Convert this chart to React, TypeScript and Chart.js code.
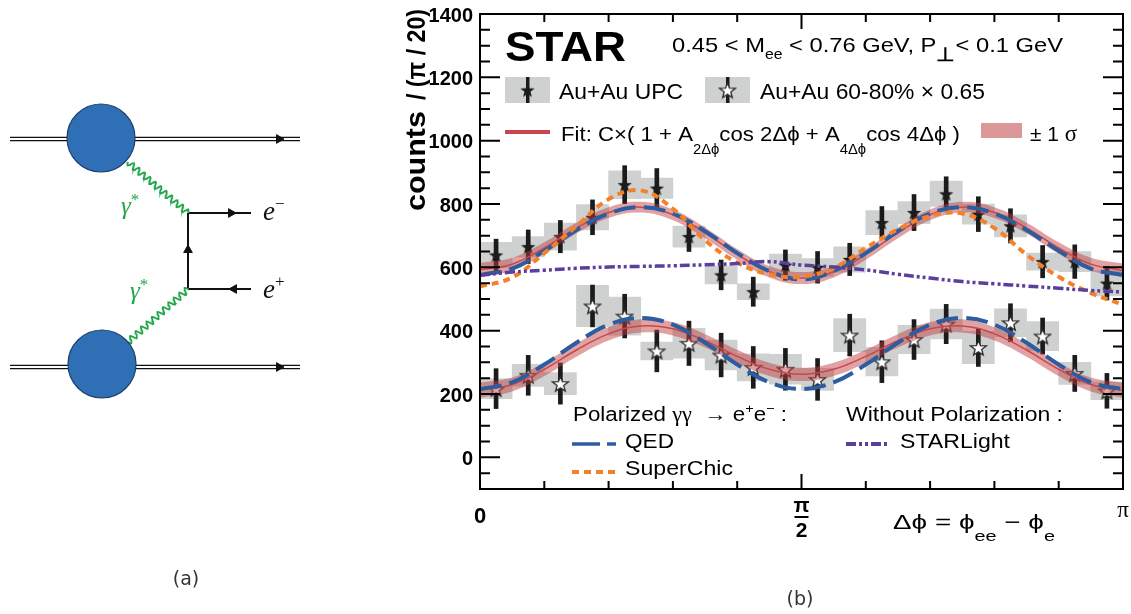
import { useEffect, useRef } from "react";
import { Chart, registerables } from "chart.js";

Chart.register(...registerables);

const SANS = '"Liberation Sans", Arial, Helvetica, sans-serif';
const SERIF = '"Liberation Serif", "Times New Roman", serif';

// Δφ bin centres and curve sampling nodes, in units of π/20
const binCentres = [0.5, 1.5, 2.5, 3.5, 4.5, 5.5, 6.5, 7.5, 8.5, 9.5, 10.5, 11.5, 12.5, 13.5, 14.5, 15.5, 16.5, 17.5, 18.5, 19.5];
const curveNodes = [0, 1, 2, 3, 4, 5, 6, 7, 8, 9, 10, 11, 12, 13, 14, 15, 16, 17, 18, 19, 20];

// Au+Au UPC
const upcCounts = [639, 665, 697, 758, 861, 850, 697, 576, 523, 607, 600, 625, 741, 773, 832, 768, 731, 618, 618, 550];
const upcStat = [50, 53, 51, 55, 60, 62, 47, 47, 46, 48, 50, 51, 51, 57, 54, 55, 54, 51, 53, 53];
const upcSys = [40, 32, 43, 40, 44, 32, 33, 28, 25, 35, 28, 40, 38, 35, 40, 32, 35, 27, 32, 40];

// Au+Au 60-80% × 0.65
const periCounts = [217, 259, 233, 478, 446, 336, 360, 323, 284, 278, 246, 386, 302, 372, 421, 347, 425, 383, 265, 210];
const periStat = [63, 63, 65, 66, 69, 66, 70, 69, 66, 66, 66, 66, 66, 63, 62, 60, 60, 57, 57, 55];
const periSys = [32, 35, 35, 65, 60, 28, 47, 47, 43, 47, 35, 52, 45, 45, 47, 51, 44, 46, 35, 28];

// Fits C×(1 + A2 cos 2Δφ + A4 cos 4Δφ) with ±1σ half-widths, sampled at curveNodes
const upcFit = [592, 610, 661, 724, 773, 790, 766, 709, 641, 586, 566, 586, 641, 709, 766, 790, 773, 724, 661, 610, 590];
const upcFitSigma = [22, 20, 18, 17, 17, 17, 17, 17, 17, 18, 19, 18, 17, 17, 17, 17, 17, 17, 18, 20, 22];
const periFit = [212, 230, 278, 339, 390, 415, 406, 368, 319, 278, 262, 278, 319, 368, 406, 415, 390, 339, 278, 230, 212];
const periFitSigma = [24, 22, 21, 21, 21, 21, 21, 21, 21, 21, 21, 21, 21, 21, 21, 21, 21, 21, 21, 22, 24];

// Model curves
const upcQED = [576, 596, 652, 718, 770, 790, 770, 714, 645, 588, 562, 588, 645, 714, 770, 790, 770, 718, 652, 596, 576];
const periQED = [215, 237, 293, 362, 419, 440, 419, 362, 293, 237, 216, 237, 293, 362, 419, 440, 419, 362, 293, 237, 215];
const upcSuperChic = [539, 568, 645, 730, 815, 843, 785, 685, 615, 578, 570, 598, 661, 720, 762, 770, 724, 640, 570, 519, 482];
const upcSTARLight = [575, 585, 591, 597, 601, 603, 605, 608, 612, 618, 607, 601, 592, 578, 566, 555, 548, 541, 534, 527, 522];

// Axis ticks
const yMajorTicks = [0, 200, 400, 600, 800, 1000, 1200, 1400];
const yMinorStep = 50;
const xTickNodes = [1, 2, 3, 4, 5, 6, 7, 8, 9]; // multiples of π/10
const xMajorNode = 5;

// Feynman diagram geometry (diagram canvas units)
const beamLevels = [139, 367];
const beamSpan = [10, 300];
const blobCentres = [{ x: 101, y: 138 }, { x: 102, y: 364 }];
const blobRadius = 34;
const vertexTop = { x: 188, y: 213 };
const vertexBottom = { x: 188, y: 289 };
const leptonEndX = 251;
const photonStarts = [{ x: 128, y: 162 }, { x: 128, y: 342 }];
const arrowMarks = [
  { x: 279, y: 139, rot: 90 },
  { x: 279, y: 367, rot: 90 },
  { x: 231, y: 213, rot: 90 },
  { x: 234, y: 289, rot: -90 },
  { x: 188, y: 250, rot: 0 },
];

const RED = "#c8474b";
const BAND = "rgba(190, 60, 60, 0.48)";
const BLUE = "#2c5da0";
const ORANGE = "#f5802a";
const PURPLE = "#5b3f9d";
const BOX = "#cfd1d1";
const INK = "#1b1b1b";

type Seg = { t: string; dy?: number; size?: number; bold?: boolean; italic?: boolean; family?: string; color?: string };
type RichOpts = { size: number; bold?: boolean; italic?: boolean; family?: string; color?: string; width?: number; align?: "left" | "center" | "right" };

function drawRich(ctx: CanvasRenderingContext2D, segs: Seg[], x: number, y: number, o: RichOpts) {
  const fontOf = (s: Seg) =>
    `${(s.italic ?? o.italic) ? "italic " : ""}${(s.bold ?? o.bold) ? "bold " : ""}${s.size ?? o.size}px ${s.family ?? o.family ?? SANS}`;
  let total = 0;
  const widths = segs.map((s) => {
    ctx.font = fontOf(s);
    const w = ctx.measureText(s.t).width;
    total += w;
    return w;
  });
  const sx = o.width ? o.width / total : 1;
  let x0 = x;
  if (o.align === "center") x0 = x - (total * sx) / 2;
  else if (o.align === "right") x0 = x - total * sx;
  ctx.save();
  ctx.translate(x0, y);
  ctx.scale(sx, 1);
  ctx.textAlign = "left";
  ctx.textBaseline = "alphabetic";
  let cx = 0;
  segs.forEach((s, i) => {
    ctx.font = fontOf(s);
    ctx.fillStyle = s.color ?? o.color ?? "#000";
    ctx.fillText(s.t, cx, s.dy ?? 0);
    cx += widths[i];
  });
  ctx.restore();
}

function makeStar(size: number, fill: string | null, stroke: string | null, lw: number) {
  const c = document.createElement("canvas");
  c.width = size;
  c.height = size;
  const g = c.getContext("2d")!;
  const cx = size / 2;
  const cy = size / 2 + size * 0.05;
  const R = size / 2 - lw;
  const r = R * 0.42;
  g.beginPath();
  for (let i = 0; i < 10; i++) {
    const a = -Math.PI / 2 + (i * Math.PI) / 5;
    const rad = i % 2 === 0 ? R : r;
    const px = cx + rad * Math.cos(a);
    const py = cy + rad * Math.sin(a);
    if (i === 0) g.moveTo(px, py);
    else g.lineTo(px, py);
  }
  g.closePath();
  if (fill) {
    g.fillStyle = fill;
    g.fill();
  }
  if (stroke) {
    g.strokeStyle = stroke;
    g.lineWidth = lw;
    g.stroke();
  }
  return c;
}

const toX = (u: number) => (u * Math.PI) / 20;
const curve = (vals: number[]) => curveNodes.map((u, i) => ({ x: toX(u), y: vals[i] }));
const curveShift = (vals: number[], d: number[], sign: number) => curveNodes.map((u, i) => ({ x: toX(u), y: vals[i] + sign * d[i] }));
const ranges = (c: number[], e: number[]) => binCentres.map((u, i) => ({ x: toX(u), y: [c[i] - e[i], c[i] + e[i]] }));
const points = (c: number[]) => binCentres.map((u, i) => ({ x: toX(u), y: c[i] }));

// Photon propagator drawn as a sine wiggle between two vertices
function photonPath(a: { x: number; y: number }, b: { x: number; y: number }, cycles: number, amp: number) {
  const dx = b.x - a.x;
  const dy = b.y - a.y;
  const len = Math.hypot(dx, dy);
  const nx = -dy / len;
  const ny = dx / len;
  const pts = [];
  const n = 240;
  for (let i = 0; i <= n; i++) {
    const t = i / n;
    const off = amp * Math.sin(t * cycles * 2 * Math.PI);
    pts.push({ x: a.x + dx * t + nx * off, y: a.y + dy * t + ny * off });
  }
  return pts;
}

function StarPlot() {
  const ref = useRef<HTMLCanvasElement>(null);
  useEffect(() => {
    const starFilled = makeStar(17, INK, null, 1);
    const starOpen = makeStar(19, "#ffffff", "#2a2a2a", 1.3);

    const decor = {
      id: "starDecor",
      afterDraw(chart: any) {
        const ctx: CanvasRenderingContext2D = chart.ctx;
        const { left, right, top, bottom } = chart.chartArea;
        const xs = chart.scales.x;
        const ys = chart.scales.y;
        ctx.save();
        // frame
        ctx.strokeStyle = "#000";
        ctx.lineWidth = 2;
        ctx.strokeRect(left, top, right - left, bottom - top);
        // y ticks (inward, both sides)
        for (let v = ys.min; v <= ys.max; v += yMinorStep) {
          const py = ys.getPixelForValue(v);
          const len = yMajorTicks.includes(v) ? 20 : 10;
          ctx.beginPath();
          ctx.moveTo(left, py);
          ctx.lineTo(left + len, py);
          ctx.moveTo(right, py);
          ctx.lineTo(right - len, py);
          ctx.stroke();
        }
        // x ticks (inward, both sides)
        xTickNodes.forEach((n) => {
          const px = xs.getPixelForValue((n * Math.PI) / 10);
          const len = n === xMajorNode ? 15 : 8;
          ctx.beginPath();
          ctx.moveTo(px, bottom);
          ctx.lineTo(px, bottom - len);
          ctx.moveTo(px, top);
          ctx.lineTo(px, top + len);
          ctx.stroke();
        });
        // y tick labels
        yMajorTicks.forEach((v) => {
          drawRich(ctx, [{ t: String(v) }], left - 7, ys.getPixelForValue(v) + 7.5, { size: 20, bold: true, align: "right" });
        });
        // x tick labels
        drawRich(ctx, [{ t: "0" }], xs.getPixelForValue(0), 523, { size: 22, bold: true, align: "center" });
        const halfPi = xs.getPixelForValue(Math.PI / 2);
        drawRich(ctx, [{ t: "π" }], halfPi, 512, { size: 21, bold: true, align: "center" });
        ctx.fillStyle = "#000";
        ctx.fillRect(halfPi - 7, 516, 14, 2);
        drawRich(ctx, [{ t: "2" }], halfPi, 537, { size: 21, bold: true, align: "center" });
        drawRich(ctx, [{ t: "π" }], xs.getPixelForValue(Math.PI), 517, { size: 23, family: SERIF, align: "center" });
        // axis titles
        drawRich(
          ctx,
          [{ t: "Δϕ = ϕ" }, { t: "ee", size: 15, dy: 12 }, { t: " − ϕ" }, { t: "e", size: 15, dy: 12 }],
          893, 529, { size: 21, width: 162 }
        );
        ctx.save();
        ctx.translate(425, 211);
        ctx.rotate(-Math.PI / 2);
        drawRich(ctx, [{ t: "counts" }], 0, 0, { size: 27, bold: true, width: 100 });
        drawRich(ctx, [{ t: "/ (π / 20)" }], 111, 0, { size: 25, bold: true, width: 91 });
        ctx.restore();

        // STAR tag and kinematic selection
        drawRich(ctx, [{ t: "STAR" }], 505, 61, { size: 43, bold: true, width: 121 });
        drawRich(
          ctx,
          [
            { t: "0.45 < M" },
            { t: "ee", size: 14, dy: 7 },
            { t: " < 0.76 GeV, P" },
            { t: "⊥", size: 19, dy: 9, bold: true },
            { t: "< 0.1 GeV" },
          ],
          672, 52, { size: 21, width: 391 }
        );

        // data legend
        const swatch = (x0: number, img: HTMLCanvasElement) => {
          ctx.fillStyle = BOX;
          ctx.fillRect(x0, 77, 45, 26);
          ctx.fillStyle = INK;
          ctx.fillRect(x0 + 21, 77, 3.5, 26);
          ctx.drawImage(img, x0 + 22.5 - img.width / 2, 90 - img.height / 2);
        };
        swatch(505, starFilled);
        swatch(705, starOpen);
        drawRich(ctx, [{ t: "Au+Au UPC" }], 559, 99, { size: 22, width: 124 });
        drawRich(ctx, [{ t: "Au+Au 60-80% × 0.65" }], 760, 99, { size: 22, width: 225 });

        ctx.strokeStyle = RED;
        ctx.lineWidth = 4;
        ctx.beginPath();
        ctx.moveTo(505, 132);
        ctx.lineTo(550, 132);
        ctx.stroke();
        drawRich(
          ctx,
          [
            { t: "Fit: C×( 1 + A" },
            { t: "2Δϕ", size: 14, dy: 13 },
            { t: "cos 2Δϕ + A" },
            { t: "4Δϕ", size: 14, dy: 13 },
            { t: "cos 4Δϕ )" },
          ],
          561, 141, { size: 21, width: 399 }
        );
        ctx.fillStyle = "#dc9898";
        ctx.fillRect(981, 123, 41, 15);
        drawRich(ctx, [{ t: "± 1 " }, { t: "σ", family: SERIF, size: 23 }], 1030, 141, { size: 21, width: 47 });

        // model legend
        drawRich(
          ctx,
          [
            { t: "Polarized " },
            { t: "γγ", family: SERIF },
            { t: "  → e" },
            { t: "+", size: 13, dy: -8 },
            { t: "e" },
            { t: "−", size: 13, dy: -8 },
            { t: " :" },
          ],
          573, 421, { size: 20, width: 214 }
        );
        drawRich(ctx, [{ t: "Without Polarization :" }], 846, 421, { size: 20, width: 217 });
        const lineSwatch = (x0: number, y0: number, color: string, dash: number[], w: number) => {
          ctx.save();
          ctx.strokeStyle = color;
          ctx.lineWidth = w;
          ctx.setLineDash(dash);
          ctx.beginPath();
          ctx.moveTo(x0, y0);
          ctx.lineTo(x0 + 44, y0);
          ctx.stroke();
          ctx.restore();
        };
        lineSwatch(572, 444, BLUE, [28, 7], 3.5);
        lineSwatch(572, 472, ORANGE, [7, 5], 4);
        lineSwatch(846, 444, PURPLE, [10, 3, 3, 3, 3, 3], 4);
        drawRich(ctx, [{ t: "QED" }], 625, 448, { size: 20, width: 49 });
        drawRich(ctx, [{ t: "SuperChic" }], 625, 475, { size: 20, width: 108 });
        drawRich(ctx, [{ t: "STARLight" }], 900, 448, { size: 20, width: 110 });
        ctx.restore();
      },
    };

    const bandLine = { borderWidth: 0, pointRadius: 0, tension: 0.4, fill: false };
    const chart = new Chart(ref.current!, {
      type: "line",
      data: {
        datasets: [
          { type: "bar", label: "UPC sys", data: ranges(upcCounts, upcSys) as any, backgroundColor: BOX, grouped: false, barPercentage: 1, categoryPercentage: 1, order: 100 } as any,
          { type: "bar", label: "60-80% sys", data: ranges(periCounts, periSys) as any, backgroundColor: BOX, grouped: false, barPercentage: 1, categoryPercentage: 1, order: 99 } as any,
          { type: "bar", label: "UPC stat", data: ranges(upcCounts, upcStat) as any, backgroundColor: INK, grouped: false, barThickness: 4, order: 90 } as any,
          { type: "bar", label: "60-80% stat", data: ranges(periCounts, periStat) as any, backgroundColor: INK, grouped: false, barThickness: 4, order: 89 } as any,
          { label: "Au+Au UPC", data: points(upcCounts), showLine: false, pointStyle: starFilled as any, pointRadius: 8, order: 80 },
          { label: "Au+Au 60-80% × 0.65", data: points(periCounts), showLine: false, pointStyle: starOpen as any, pointRadius: 9, order: 79 },
          { label: "UPC fit low", data: curveShift(upcFit, upcFitSigma, -1), ...bandLine, order: 61 } as any,
          { label: "UPC fit band", data: curveShift(upcFit, upcFitSigma, 1), ...bandLine, fill: "-1", backgroundColor: BAND, order: 60 } as any,
          { label: "UPC fit", data: curve(upcFit), borderColor: RED, borderWidth: 1.5, pointRadius: 0, tension: 0.4, order: 59 },
          { label: "60-80% fit low", data: curveShift(periFit, periFitSigma, -1), ...bandLine, order: 58 } as any,
          { label: "60-80% fit band", data: curveShift(periFit, periFitSigma, 1), ...bandLine, fill: "-1", backgroundColor: BAND, order: 57 } as any,
          { label: "60-80% fit", data: curve(periFit), borderColor: RED, borderWidth: 1.5, pointRadius: 0, tension: 0.4, order: 56 },
          { label: "QED UPC", data: curve(upcQED), borderColor: BLUE, borderWidth: 4, borderDash: [22, 8], pointRadius: 0, tension: 0.4, order: 40 },
          { label: "QED 60-80%", data: curve(periQED), borderColor: BLUE, borderWidth: 4, borderDash: [22, 8], pointRadius: 0, tension: 0.4, order: 39 },
          { label: "SuperChic", data: curve(upcSuperChic), borderColor: ORANGE, borderWidth: 4, borderDash: [7, 5], pointRadius: 0, tension: 0.4, order: 38 },
          { label: "STARLight", data: curve(upcSTARLight), borderColor: PURPLE, borderWidth: 3.5, borderDash: [10, 3, 3, 3, 3, 3], pointRadius: 0, tension: 0.4, order: 37 },
        ],
      },
      options: {
        animation: false,
        responsive: false,
        layout: { autoPadding: false, padding: { left: 480, right: 8, top: 14, bottom: 125 } },
        scales: {
          x: { type: "linear", min: 0, max: Math.PI, offset: false, display: false },
          y: { type: "linear", min: -100, max: 1400, display: false },
        },
        plugins: { legend: { display: false }, tooltip: { enabled: false } },
        events: [],
      } as any,
      plugins: [decor],
    });
    return () => chart.destroy();
  }, []);
  return <canvas ref={ref} width={1131} height={614} style={{ position: "absolute", left: 0, top: 0 }} />;
}

function FeynmanDiagram() {
  const ref = useRef<HTMLCanvasElement>(null);
  useEffect(() => {
    const labels = {
      id: "diagramLabels",
      afterDraw(chart: any) {
        const ctx: CanvasRenderingContext2D = chart.ctx;
        const xs = chart.scales.x;
        const ys = chart.scales.y;
        const lab = (segs: Seg[], x: number, y: number, color: string, size: number) =>
          drawRich(ctx, segs, xs.getPixelForValue(x), ys.getPixelForValue(y), { size, italic: true, family: SERIF, color });
        lab([{ t: "e" }, { t: "−", size: 17, dy: -11, italic: false }], 263, 220, "#111", 27);
        lab([{ t: "e" }, { t: "+", size: 17, dy: -11, italic: false }], 263, 298, "#111", 27);
        lab([{ t: "γ" }, { t: "*", size: 17, dy: -9, italic: false }], 121, 214, "#22a64a", 25);
        lab([{ t: "γ" }, { t: "*", size: 17, dy: -9, italic: false }], 130, 299, "#22a64a", 25);
      },
    };
    const seg = (a: { x: number; y: number }, b: { x: number; y: number }, w = 2) => ({
      data: [a, b], showLine: true, borderColor: "#111", borderWidth: w, pointRadius: 0, order: 20,
    });
    const beams: any[] = [];
    beamLevels.forEach((y) => {
      beams.push(seg({ x: beamSpan[0], y: y - 1.6 }, { x: beamSpan[1], y: y - 1.6 }, 1.3));
      beams.push(seg({ x: beamSpan[0], y: y + 1.6 }, { x: beamSpan[1], y: y + 1.6 }, 1.3));
    });
    const chart = new Chart(ref.current!, {
      type: "scatter",
      data: {
        datasets: [
          ...beams,
          seg(vertexTop, vertexBottom),
          seg(vertexTop, { x: leptonEndX, y: vertexTop.y }),
          seg(vertexBottom, { x: leptonEndX, y: vertexBottom.y }),
          { data: photonPath(photonStarts[0], vertexTop, 11, 3), showLine: true, borderColor: "#22a64a", borderWidth: 1.8, pointRadius: 0, order: 15 },
          { data: photonPath(photonStarts[1], vertexBottom, 11, 3), showLine: true, borderColor: "#22a64a", borderWidth: 1.8, pointRadius: 0, order: 15 },
          {
            data: blobCentres, showLine: false, pointStyle: "circle", pointRadius: blobRadius,
            backgroundColor: "#2f6fb5", borderColor: "#1f3f6e", borderWidth: 1.2, order: 5,
          },
          {
            data: arrowMarks.map((a) => ({ x: a.x, y: a.y })), showLine: false, pointStyle: "triangle",
            pointRadius: 5, pointRotation: arrowMarks.map((a) => a.rot), backgroundColor: "#111", borderColor: "#111", borderWidth: 1, order: 4,
          },
        ] as any,
      },
      options: {
        animation: false,
        responsive: false,
        layout: { autoPadding: false, padding: 0 },
        scales: {
          x: { type: "linear", min: 0, max: 330, display: false },
          y: { type: "linear", min: 0, max: 614, reverse: true, display: false },
        },
        plugins: { legend: { display: false }, tooltip: { enabled: false } },
        events: [],
      } as any,
      plugins: [labels],
    });
    return () => chart.destroy();
  }, []);
  return <canvas ref={ref} width={330} height={614} style={{ position: "absolute", left: 0, top: 0 }} />;
}

const captionStyle = {
  position: "absolute" as const,
  fontFamily: '"DejaVu Sans", "Noto Sans", sans-serif',
  fontSize: 19,
  color: "#333",
  transform: "translate(-50%, -50%)",
  lineHeight: 1,
};

export default function App() {
  return (
    <div style={{ position: "absolute", left: 0, top: 0, width: 1131, height: 614, background: "#fff", overflow: "hidden" }}>
      <StarPlot />
      <FeynmanDiagram />
      <div style={{ ...captionStyle, left: 186, top: 578 }}>(a)</div>
      <div style={{ ...captionStyle, left: 800, top: 598 }}>(b)</div>
    </div>
  );
}
